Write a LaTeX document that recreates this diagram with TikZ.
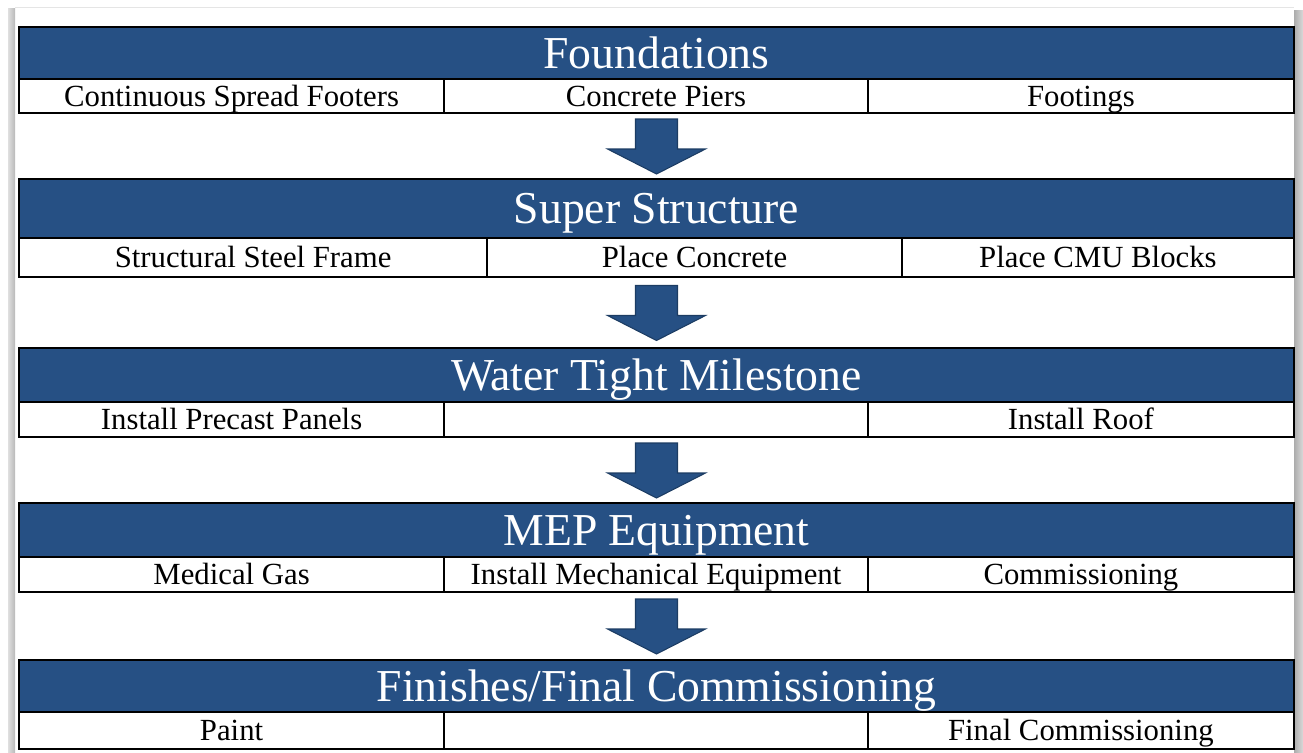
\documentclass[tikz,border=0pt]{standalone}
\usepackage{fontspec}
\setmainfont{Liberation Serif}
\usepackage{xcolor}
\definecolor{phaseblue}{HTML}{265084}
\usetikzlibrary{positioning, calc}
\tikzset{
  phase/.style={draw=black, line width=1pt, fill=phaseblue, text=white,
    font=\fontsize{26}{30}\selectfont, text height=22.2pt, text depth=5pt,
    minimum width=25.5cm, inner sep=0pt, outer sep=0pt},
  task/.style={draw=black, line width=1pt, fill=white,
    font=\fontsize{17.5}{20}\selectfont, text height=15.1pt, text depth=3.5pt,
    inner sep=0pt, outer sep=0pt, anchor=west},
  flow/.style={fill=phaseblue, draw=phaseblue!75!black, line width=0.6pt}
}

\begin{document}
\begin{tikzpicture}[x=0.02cm, y=-0.02cm]
  \useasboundingbox (0,0) rectangle (1303,752);
  % page shadow
  \shade[left color=gray!25, right color=gray!55] (8,8) rectangle (15,752);
  \shade[left color=gray!65, right color=gray!30] (1294,10) rectangle (1303,752);
  \draw[gray!20] (15,7) -- (1294,7);

  % Foundations
  \node[phase, minimum height=1.04cm] (p1) at (656.5,53) {Foundations};
  \node[task, minimum width=8.5cm, minimum height=0.68cm, anchor=north west] (t11) at (p1.south west) {Continuous Spread Footers};
  \node[task, minimum width=8.48cm, minimum height=0.68cm, right=0pt of t11] (t12) {Concrete Piers};
  \node[task, minimum width=8.52cm, minimum height=0.68cm, right=0pt of t12] (t13) {Footings};

  % Super Structure
  \node[phase, minimum height=1.18cm] (p2) at (656.5,208.5) {Super Structure};
  \node[task, minimum width=9.36cm, minimum height=0.78cm, anchor=north west] (t21) at (p2.south west) {Structural Steel Frame};
  \node[task, minimum width=8.3cm, minimum height=0.78cm, right=0pt of t21] (t22) {Place Concrete};
  \node[task, minimum width=7.84cm, minimum height=0.78cm, right=0pt of t22] (t23) {Place CMU Blocks};

  % Water Tight Milestone
  \node[phase, minimum height=1.08cm] (p3) at (656.5,375) {Water Tight Milestone};
  \node[task, minimum width=8.5cm, minimum height=0.7cm, anchor=north west] (t31) at (p3.south west) {Install Precast Panels};
  \node[task, minimum width=8.48cm, minimum height=0.7cm, right=0pt of t31] (t32) {};
  \node[task, minimum width=8.52cm, minimum height=0.7cm, right=0pt of t32] (t33) {Install Roof};

  % MEP Equipment
  \node[phase, minimum height=1.08cm] (p4) at (656.5,530) {MEP Equipment};
  \node[task, minimum width=8.5cm, minimum height=0.7cm, anchor=north west] (t41) at (p4.south west) {Medical Gas};
  \node[task, minimum width=8.48cm, minimum height=0.7cm, right=0pt of t41] (t42) {Install Mechanical Equipment};
  \node[task, minimum width=8.52cm, minimum height=0.7cm, right=0pt of t42] (t43) {Commissioning};

  % Finishes/Final Commissioning
  \node[phase, minimum height=1.04cm] (p5) at (656.5,686) {Finishes/Final Commissioning};
  \node[task, minimum width=8.5cm, minimum height=0.74cm, anchor=north west] (t51) at (p5.south west) {Paint};
  \node[task, minimum width=8.48cm, minimum height=0.74cm, right=0pt of t51] (t52) {};
  \node[task, minimum width=8.52cm, minimum height=0.74cm, right=0pt of t52] (t53) {Final Commissioning};

  % block arrows between phases
  \foreach \a/\b in {t11/p2, t21/p3, t31/p4, t41/p5}
    \path[flow] ($(\b.north |- \a.south)!0.5!(\b.north)$) ++(-21,-27) -- ++(42,0) -- ++(0,30)
      -- ++(28,0) -- ++(-49,25) -- ++(-49,-25) -- ++(28,0) -- cycle;
\end{tikzpicture}
\end{document}
